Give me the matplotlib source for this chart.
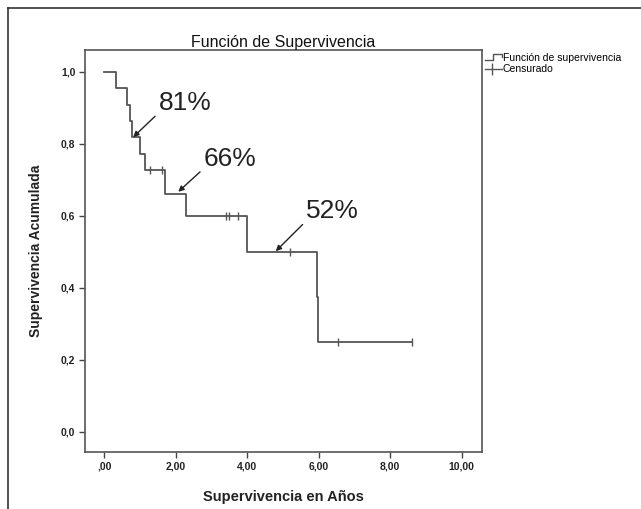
import matplotlib
matplotlib.use("Agg")
import matplotlib.pyplot as plt
import numpy as np
from matplotlib.lines import Line2D
from matplotlib.legend_handler import HandlerBase

# survival curve (years, cumulative survival)
event_times = [0.0, 0.32, 0.64, 0.72, 0.77, 1.00, 1.14, 1.70, 2.30, 3.98, 5.94, 5.97, 8.62]
survival = [1.0, 0.955, 0.909, 0.864, 0.818, 0.773, 0.727, 0.661, 0.601, 0.50, 0.375, 0.25, 0.25]

# censored observations
censored_times = [1.28, 1.61, 3.42, 3.50, 3.75, 5.20, 6.55, 8.62]

# callouts
note_labels = ["81%", "66%", "52%"]
note_x = [0.81, 2.07, 4.80]
note_y = [0.819, 0.667, 0.502]

x_ticks = [0, 2, 4, 6, 8, 10]
x_ticklabels = [",00", "2,00", "4,00", "6,00", "8,00", "10,00"]
y_ticks = [0.0, 0.2, 0.4, 0.6, 0.8, 1.0]
y_ticklabels = ["0,0", "0,2", "0,4", "0,6", "0,8", "1,0"]

LINE = "#555555"
plt.rcParams['font.family'] = ['Liberation Sans', 'DejaVu Sans']


class StepHandler(HandlerBase):
    def create_artists(self, legend, orig_handle, xdescent, ydescent,
                       width, height, fontsize, trans):
        x0 = -xdescent
        lo = -ydescent + height * 0.15
        hi = -ydescent + height * 0.95
        xs = [x0, x0 + width * 0.45, x0 + width * 0.45, x0 + width, x0 + width]
        ys = [lo, lo, hi, hi, hi - height * 0.35]
        ln = Line2D(xs, ys, color=LINE, lw=1, transform=trans)
        return [ln]


class CensorHandler(HandlerBase):
    def create_artists(self, legend, orig_handle, xdescent, ydescent,
                       width, height, fontsize, trans):
        x0 = -xdescent
        mid = -ydescent + height * 0.5
        ln = Line2D([x0, x0 + width], [mid, mid], color=LINE, lw=1, transform=trans)
        mk = Line2D([x0 + width * 0.4], [mid], marker='|', markersize=8,
                    color=LINE, mew=1, transform=trans)
        return [ln, mk]


def main():
    fig = plt.figure(figsize=(6.41, 5.09), dpi=100)
    ax = fig.add_axes([0.1326, 0.112, 0.6193, 0.7898])

    # outer frame of the original figure
    fig.add_artist(Line2D([8 / 641, 8 / 641], [0, 1 - 8 / 509], transform=fig.transFigure,
                          color="#333333", lw=1.2))
    fig.add_artist(Line2D([8 / 641, 1], [1 - 8 / 509, 1 - 8 / 509], transform=fig.transFigure,
                          color="#333333", lw=1.2))

    step_line, = ax.step(event_times, survival, where='post', color=LINE, lw=1.3)

    t = np.array(event_times)
    s = np.array(survival)
    idx = np.searchsorted(t, censored_times, side='right') - 1
    cens_y = s[idx]
    cens, = ax.plot(censored_times, cens_y, linestyle='none', marker='|',
                    markersize=6, mew=1, color=LINE)

    offsets = [(52, 34), (52, 33), (57, 40)]
    for lab, x, y, off in zip(note_labels, note_x, note_y, offsets):
        ax.annotate(lab, xy=(x, y), xytext=off, textcoords='offset pixels',
                    ha='center', va='center', fontsize=19, color='#222222',
                    arrowprops=dict(arrowstyle='-|>', color='#222222', lw=1,
                                    mutation_scale=8, shrinkA=1, shrinkB=0,
                                    relpos=(0.0, 0.1)))

    ax.set_xlim(-0.54, 10.57)
    ax.set_ylim(-0.056, 1.061)
    ax.set_xticks(x_ticks)
    ax.set_xticklabels(x_ticklabels, fontweight='bold', fontsize=7.5)
    ax.set_yticks(y_ticks)
    ax.set_yticklabels(y_ticklabels, fontweight='bold', fontsize=7.5)
    ax.tick_params(direction='out', length=4, width=1, color='#444444', labelcolor='#222222', pad=3)
    for sp in ax.spines.values():
        sp.set_color('#555555')
        sp.set_linewidth(1.2)

    ax.set_title("Función de Supervivencia", fontsize=11.5, color='#111111', pad=1.5)
    ax.set_xlabel("Supervivencia en Años", fontsize=10.5, fontweight='bold', color='#222222', labelpad=13)
    ax.set_ylabel("Supervivencia Acumulada", fontsize=10, fontweight='bold', color='#222222', labelpad=13)

    ax.legend([step_line, cens], ["Función de supervivencia", "Censurado"],
              handler_map={step_line: StepHandler(), cens: CensorHandler()},
              loc='upper left', bbox_to_anchor=(1.0, 1.0), frameon=False,
              fontsize=7.5, handlelength=1.6, handletextpad=0.1, borderaxespad=0.2,
              borderpad=0.1, labelspacing=0.1)

    fig.savefig("out.png", dpi=100)


if __name__ == '__main__':
    main()
